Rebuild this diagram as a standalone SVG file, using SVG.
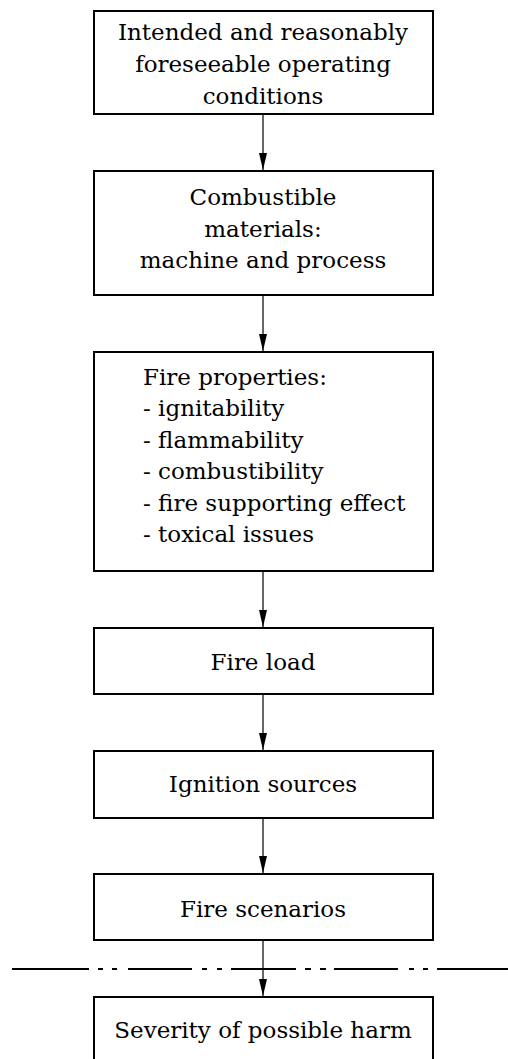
<svg xmlns="http://www.w3.org/2000/svg" width="508" height="1059" viewBox="0 0 508 1059">
<style>
.box{fill:#fff;stroke:#000;stroke-width:2}
.t{font-family:"DejaVu Serif","Liberation Serif",serif;font-size:23px;fill:#000}
.c{text-anchor:middle}
.con{stroke:#000;stroke-width:1.2;fill:none}
.sep{stroke:#000;stroke-width:2;fill:none}
</style>
<defs>
<marker id="ah" markerUnits="userSpaceOnUse" markerWidth="18" markerHeight="8" refX="17" refY="4" orient="auto" viewBox="0 0 18 8">
<path d="M0,0 L17,4 L0,8 Z" fill="#000"/>
</marker>
</defs>
<rect width="508" height="1059" fill="#fff"/>
<g id="connectors">
<line class="con" x1="263" y1="115" x2="263" y2="170" marker-end="url(#ah)"/>
<line class="con" x1="263" y1="296" x2="263" y2="351" marker-end="url(#ah)"/>
<line class="con" x1="263" y1="572" x2="263" y2="627" marker-end="url(#ah)"/>
<line class="con" x1="263" y1="695" x2="263" y2="750" marker-end="url(#ah)"/>
<line class="con" x1="263" y1="819" x2="263" y2="873" marker-end="url(#ah)"/>
<line class="con" x1="263" y1="941" x2="263" y2="996" marker-end="url(#ah)"/>
</g>
<g id="separator">
<path class="sep" d="M12,969 H89 M98,969 H103 M112,969 H117 M128,969 H192 M202,969 H207 M217,969 H222 M231,969 H296 M305,969 H311 M320,969 H326 M334,969 H398 M409,969 H414 M423,969 H428 M437,969 H508"/>
</g>
<g id="n1">
<rect class="box" x="94" y="11" width="339" height="103"/>
<text class="t c" x="263" y="40">Intended and reasonably</text>
<text class="t c" x="263" y="72">foreseeable operating</text>
<text class="t c" x="263" y="104">conditions</text>
</g>
<g id="n2">
<rect class="box" x="94" y="171" width="339" height="124"/>
<text class="t c" x="263" y="205">Combustible</text>
<text class="t c" x="263" y="237">materials:</text>
<text class="t c" x="263" y="268">machine and process</text>
</g>
<g id="n3">
<rect class="box" x="94" y="352" width="339" height="219"/>
<text class="t" x="143" y="385">Fire properties:</text>
<text class="t" x="143" y="416">- ignitability</text>
<text class="t" x="143" y="448">- flammability</text>
<text class="t" x="143" y="479">- combustibility</text>
<text class="t" x="143" y="511">- fire supporting effect</text>
<text class="t" x="143" y="542">- toxical issues</text>
</g>
<g id="n4">
<rect class="box" x="94" y="628" width="339" height="66"/>
<text class="t c" x="263" y="670">Fire load</text>
</g>
<g id="n5">
<rect class="box" x="94" y="751" width="339" height="67"/>
<text class="t c" x="263" y="792">Ignition sources</text>
</g>
<g id="n6">
<rect class="box" x="94" y="874" width="339" height="66"/>
<text class="t c" x="263" y="917">Fire scenarios</text>
</g>
<g id="n7">
<rect class="box" x="94" y="997" width="339" height="70"/>
<text class="t c" x="263" y="1038">Severity of possible harm</text>
</g>
</svg>
